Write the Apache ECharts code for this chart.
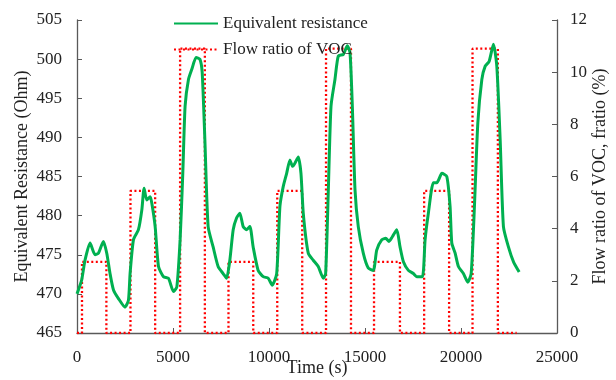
<!DOCTYPE html>
<html>
<head>
<meta charset="utf-8">
<script src="https://cdn.jsdelivr.net/npm/echarts@6/dist/echarts.min.js"></script>
<style>
html,body{margin:0;padding:0;background:#fff;}
#chart{width:616px;height:380px;}
</style>
</head>
<body>
<div id="chart"></div>
<script>
// Equivalent resistance (Ohm) vs time (s)
var resTime = [0,245,417,680,940,1115,1375,1550,1720,1900,2160,2500,2680,2765,2940,3200,3375,3495,3635,3810,3895,4070,4245,4505,4765,5025,5200,5370,5510,5630,5805,5980,6205,6400,6520,6660,6830,7090,7350,7610,7790,7960,8135,8310,8480,8655,8830,9005,9175,9435,9700,9960,10170,10400,10570,10740,10920,11090,11230,11350,11525,11665,11785,12045,12305,12565,12830,12950,13090,13230,13435,13610,13870,14080,14220,14340,14480,14650,14910,15170,15435,15610,15870,16080,16250,16425,16655,16825,17000,17260,17520,17695,17990,18130,18300,18560,18740,18910,19000,19260,19430,19520,19695,19865,20125,20355,20530,20700,20875,21085,21260,21465,21690,21865,22040,22210,22470,22735,23030];
var resValue = [470.0,471.8,474.3,476.5,475.0,475.2,476.7,475.2,472.6,470.5,469.4,468.3,469.2,472.6,476.9,478.2,480.7,483.5,482.0,482.4,481.6,478.6,473.5,472.2,472.0,470.3,470.9,476.9,485.4,494.0,497.4,498.7,500.2,500.0,498.3,489.7,478.6,476.0,473.5,472.6,472.0,474.3,478.2,479.7,480.3,478.6,478.2,478.6,476.0,473.0,472.2,472.0,471.1,472.6,481.2,483.7,485.4,487.1,486.3,486.7,487.5,485.4,480.3,475.2,474.3,473.5,472.0,472.6,483.3,494.0,497.4,500.4,500.6,501.7,500.8,494.0,483.3,478.6,475.2,473.3,473.0,475.6,476.9,477.1,476.7,477.3,478.2,476.0,474.1,473.0,472.6,472.2,472.2,476.9,480.3,484.2,484.2,485.0,485.4,485.0,481.2,476.5,475.2,473.5,472.6,471.5,472.6,481.2,491.8,497.4,499.1,499.7,501.9,499.1,489.7,478.6,476.0,474.1,472.8];

// Flow ratio of VOC (%) step changes
var stepTime = [0,260,1530,2785,4070,5370,6660,7890,9180,10430,11730,12970,14270,15470,16820,18080,19380,20600,21920,22900];
var stepRatio = [0,2.73,0,5.45,0,10.9,0,2.73,0,5.45,0,10.9,0,2.73,0,5.45,0,10.9,0,0];

var xTicks = [0,5000,10000,15000,20000,25000];
var leftTicks = [465,470,475,480,485,490,495,500,505];
var rightTicks = [0,2,4,6,8,10,12];

var seriesNames = ['Equivalent resistance','Flow ratio of VOC'];
var axisNames = {x:'Time (s)', left:'Equivalent Resistance (Ohm)', right:'Flow ratio of VOC, fratio (%)'};

var FONT = '"Liberation Serif", "Times New Roman", serif';
var AXIS_COLOR = '#595959';
var TEXT_COLOR = '#222';

var resData = resTime.map(function(t,i){return [t,resValue[i]];});
var stepData = stepTime.map(function(t,i){return [t,stepRatio[i]];});

var chart = echarts.init(document.getElementById('chart'), null, {renderer:'canvas'});
function labelStyle(margin){
  return {margin:margin,fontFamily:FONT,fontSize:17,color:TEXT_COLOR,formatter:function(v){return String(v);}};
}
chart.setOption({
  animation:false,
  backgroundColor:'#fff',
  grid:{left:77,right:59,top:20,bottom:47,containLabel:false,outerBoundsMode:'none'},
  legend:{
    orient:'vertical', left:168, top:10,
    itemWidth:44, itemHeight:18, itemGap:9,
    itemStyle:{opacity:0},
    textStyle:{fontFamily:FONT,fontSize:17,color:TEXT_COLOR},
    data:seriesNames
  },
  xAxis:{
    type:'value', min:xTicks[0], max:xTicks[xTicks.length-1], interval:xTicks[1]-xTicks[0],
    name:axisNames.x, nameLocation:'middle', nameGap:26, nameMoveOverlap:false,
    nameTextStyle:{fontFamily:FONT,fontSize:18,color:TEXT_COLOR},
    axisLine:{lineStyle:{color:AXIS_COLOR,width:1.3}},
    axisTick:{inside:true,length:5,lineStyle:{color:AXIS_COLOR}},
    axisLabel:labelStyle(16),
    splitLine:{show:false}
  },
  yAxis:[{
    type:'value', min:leftTicks[0], max:leftTicks[leftTicks.length-1], interval:leftTicks[1]-leftTicks[0],
    name:axisNames.left, nameLocation:'middle', nameGap:46, nameRotate:90, nameMoveOverlap:false,
    nameTextStyle:{fontFamily:FONT,fontSize:18,color:TEXT_COLOR},
    axisLine:{show:true,lineStyle:{color:AXIS_COLOR,width:1.3}},
    axisTick:{show:true,inside:true,length:5,lineStyle:{color:AXIS_COLOR}},
    axisLabel:labelStyle(15),
    splitLine:{show:false}
  },{
    type:'value', position:'right', min:rightTicks[0], max:rightTicks[rightTicks.length-1], interval:rightTicks[1]-rightTicks[0],
    name:axisNames.right, nameLocation:'middle', nameGap:34, nameRotate:90, nameMoveOverlap:false,
    nameTextStyle:{fontFamily:FONT,fontSize:18,color:TEXT_COLOR},
    axisLine:{show:true,lineStyle:{color:AXIS_COLOR,width:1.3}},
    axisTick:{show:true,inside:true,length:5,lineStyle:{color:AXIS_COLOR}},
    axisLabel:labelStyle(13),
    splitLine:{show:false}
  }],
  series:[{
    name:seriesNames[0], type:'line', yAxisIndex:0, data:resData,
    showSymbol:false, symbol:'none', smooth:0.2, z:3,
    lineStyle:{color:'#00b050',width:3},
    itemStyle:{color:'#00b050'}
  },{
    name:seriesNames[1], type:'line', yAxisIndex:1, data:stepData,
    step:'end', showSymbol:false, symbol:'none', z:2,
    lineStyle:{color:'#ff0000',width:2.3,type:[2,2.5]},
    itemStyle:{color:'#ff0000'}
  }]
});
</script>
</body>
</html>
